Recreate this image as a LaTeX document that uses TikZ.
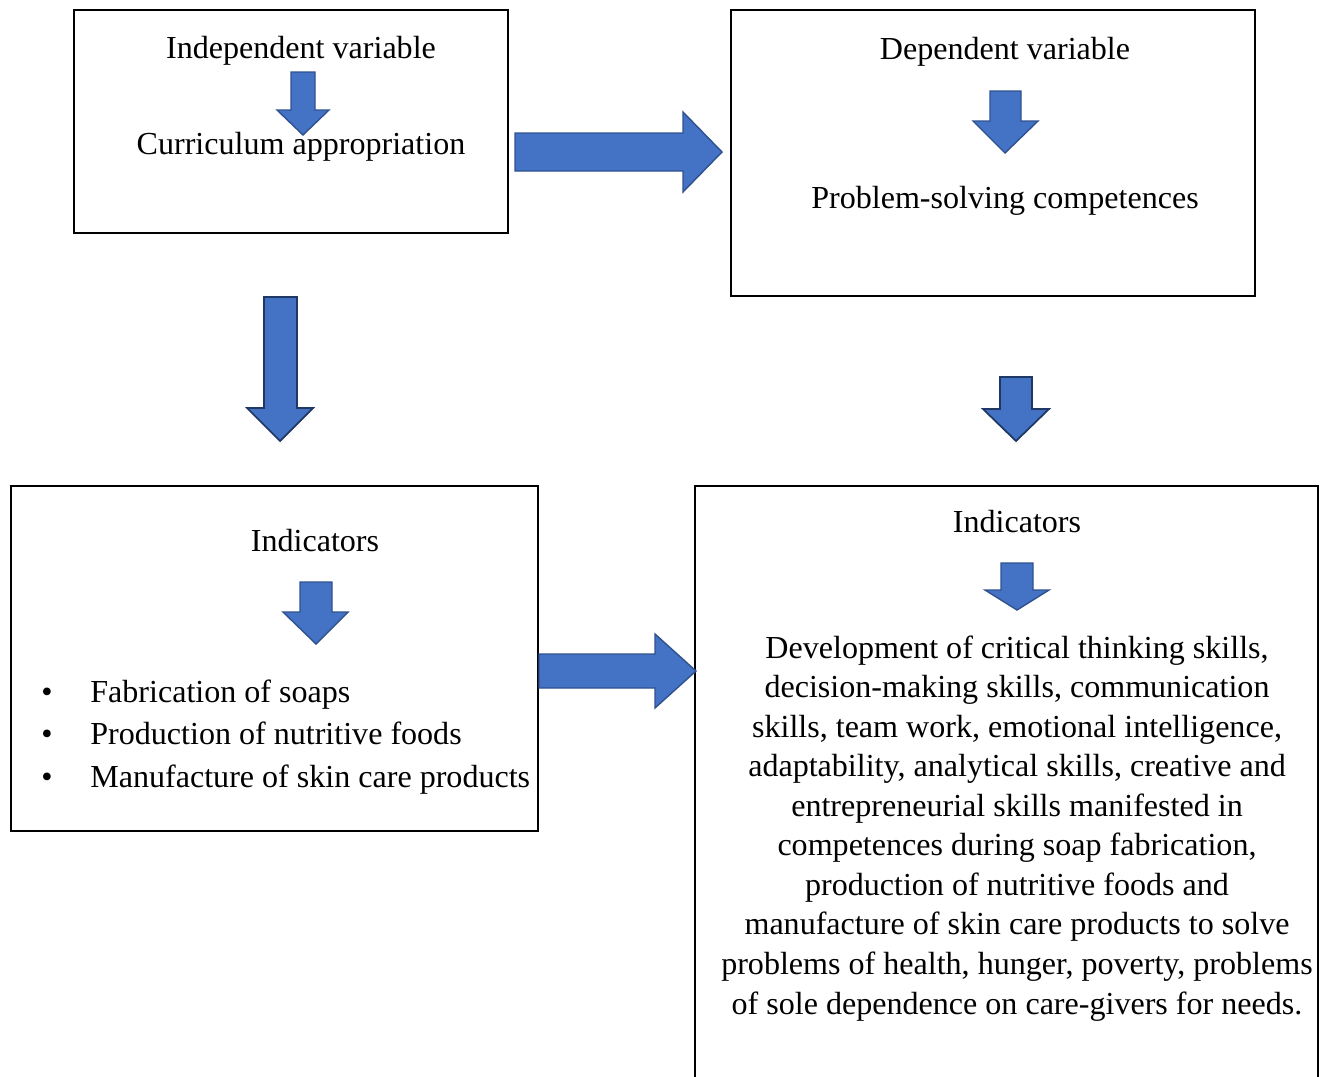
\documentclass[tikz,border=0pt]{standalone}
\usepackage{fontspec}
\setmainfont{Liberation Serif}
\definecolor{arrowfill}{HTML}{4472C4}
\definecolor{arrowline}{HTML}{2F528F}
\definecolor{arrowdark}{HTML}{1F3864}
\begin{document}
\begin{tikzpicture}[
    x=0.02cm, y=-0.02cm,
    box/.style={draw=black, line width=1.1pt},
    blockarrow/.style={fill=arrowfill, draw=arrowline, line width=0.8pt, line join=miter},
    darkarrow/.style={blockarrow, draw=arrowdark, line width=1pt},
    label/.style={inner sep=0pt, anchor=base, font=\fontsize{18.25}{22.5}\selectfont}
  ]
  \useasboundingbox (0,0) rectangle (1332,1076);

  % boxes
  \draw[box] (74,10) rectangle (508,233);
  \draw[box] (731,10) rectangle (1255,296);
  \draw[box] (11,486) rectangle (538,831);
  \draw[box] (695,1080) -- (695,486) -- (1318,486) -- (1318,1080);

  % block arrows
  \draw[blockarrow] (291,72) -- (315,72) -- (315,110) -- (329,110) -- (303,135)
    -- (277,110) -- (291,110) -- cycle;
  \draw[blockarrow] (515,133) -- (683,133) -- (683,112) -- (722,152) -- (683,192)
    -- (683,171) -- (515,171) -- cycle;
  \draw[blockarrow] (990,91) -- (1021,91) -- (1021,121) -- (1038,121) -- (1005,153)
    -- (973,121) -- (990,121) -- cycle;
  \draw[darkarrow] (264,297) -- (297,297) -- (297,408) -- (313,408) -- (280,441)
    -- (247,408) -- (264,408) -- cycle;
  \draw[darkarrow] (1000,377) -- (1032,377) -- (1032,409) -- (1049,409) -- (1016,441)
    -- (983,409) -- (1000,409) -- cycle;
  \draw[blockarrow] (300,582) -- (332,582) -- (332,612) -- (348,612) -- (316,644)
    -- (283,612) -- (300,612) -- cycle;
  \draw[blockarrow] (539,654) -- (655,654) -- (655,634) -- (696,671) -- (655,708)
    -- (655,688) -- (539,688) -- cycle;
  \draw[blockarrow] (1001,563) -- (1033,563) -- (1033,590) -- (1049,590) -- (1017,610)
    -- (985,590) -- (1001,590) -- cycle;

  % texts
  \node[label] (indep) at (301,58) {Independent variable};
  \node[label] (curric) at (301,154) {Curriculum appropriation};
  \node[label] (dep) at (1005,59) {Dependent variable};
  \node[label] (prob) at (1005,208) {Problem-solving competences};
  \node[label] (indl) at (315,551) {Indicators};
  \node[label] (indr) at (1017,532) {Indicators};

  \foreach \txt [count=\i from 0] in {Fabrication of soaps, Production of nutritive foods,
      Manufacture of skin care products} {
    \node[label] (bul\i) at (47,702+42.5*\i) {\textbullet};
    \node[label, anchor=base west] (item\i) at (90,702+42.5*\i) {\txt};
  }

  \foreach \txt [count=\i from 0] in {
      {Development of critical thinking skills,},
      {decision-making skills, communication},
      {skills, team work, emotional intelligence,},
      {adaptability, analytical skills, creative and},
      {entrepreneurial skills manifested in},
      {competences during soap fabrication,},
      {production of nutritive foods and},
      {manufacture of skin care products to solve},
      {problems of health, hunger, poverty, problems},
      {of sole dependence on care-givers for needs.}} {
    \node[label] (para\i) at (1017,658+39.56*\i) {\txt};
  }
\end{tikzpicture}
\end{document}
